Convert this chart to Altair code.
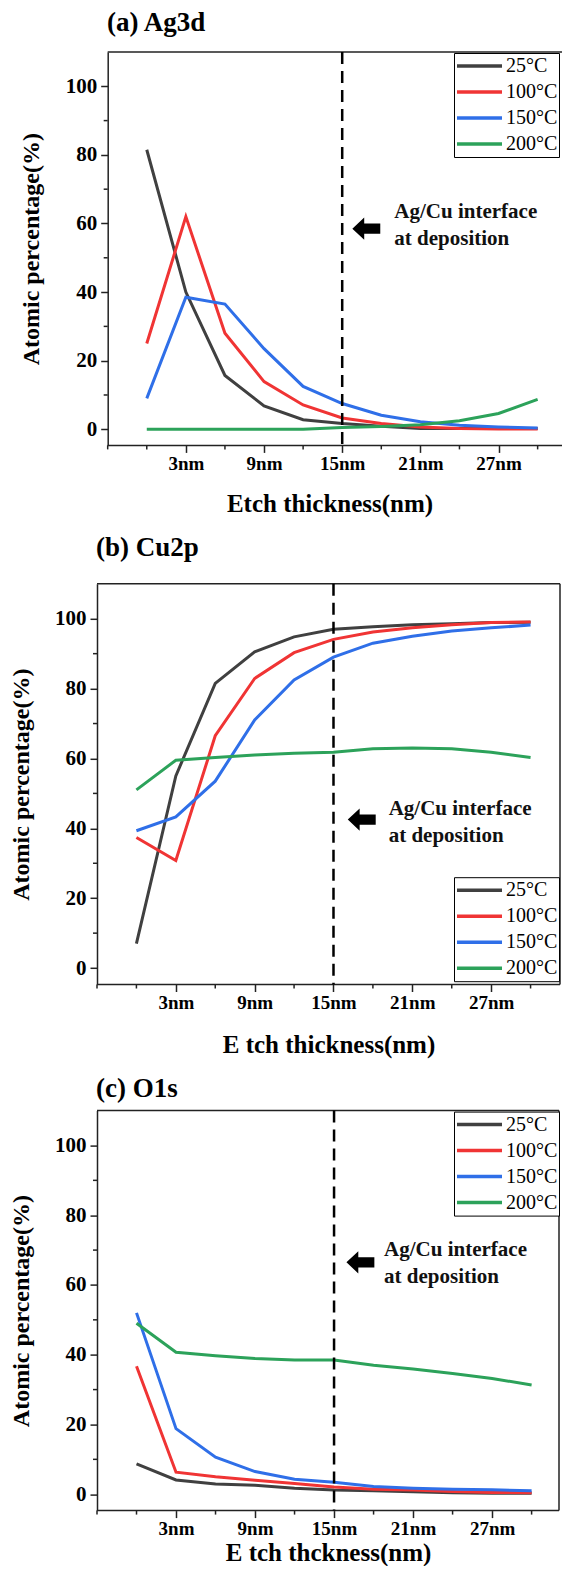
import altair as alt
import pandas as pd

# ---------------- data ----------------
x_nm = [0, 3, 6, 9, 12, 15, 18, 21, 24, 27, 30]
series = ["25°C", "100°C", "150°C", "200°C"]
colors = ["#404040", "#f03434", "#2f6fe8", "#2ca25a"]

ag_25 = [81.5, 40.0, 15.7, 6.8, 2.8, 1.7, 0.9, 0.2, 0.2, 0.2, 0.2]
ag_100 = [25.0, 62.0, 28.0, 13.9, 7.1, 3.3, 1.7, 0.7, 0.2, 0.1, 0.1]
ag_150 = [9.0, 38.5, 36.5, 23.5, 12.5, 7.5, 4.1, 2.2, 1.2, 0.7, 0.4]
ag_200 = [0.0, 0.0, 0.0, 0.0, 0.0, 0.5, 0.8, 1.3, 2.5, 4.6, 8.7]

cu_25 = [7.0, 55.0, 81.5, 90.5, 94.8, 97.0, 97.7, 98.3, 98.6, 98.9, 99.0]
cu_100 = [37.4, 30.8, 66.5, 82.9, 90.3, 94.1, 96.2, 97.4, 98.3, 98.9, 99.1]
cu_150 = [39.3, 43.3, 53.5, 71.0, 82.5, 89.0, 93.0, 95.0, 96.5, 97.4, 98.2]
cu_200 = [51.0, 59.5, 60.3, 61.0, 61.5, 61.8, 62.8, 63.0, 62.8, 61.8, 60.3]

o_25 = [8.7, 4.1, 2.9, 2.6, 1.7, 1.2, 1.0, 0.7, 0.4, 0.3, 0.3]
o_100 = [36.7, 6.3, 5.0, 4.0, 3.1, 2.1, 1.4, 1.2, 0.8, 0.5, 0.4]
o_150 = [52.0, 18.8, 10.6, 6.5, 4.3, 3.4, 2.2, 1.7, 1.4, 1.25, 1.0]
o_200 = [49.0, 40.7, 39.7, 38.9, 38.5, 38.5, 37.0, 35.9, 34.6, 33.2, 31.3]

panel_titles = ["(a) Ag3d", "(b) Cu2p", "(c) O1s"]
x_titles = ["Etch thickness(nm)", "E tch thickness(nm)", "E tch thckness(nm)"]
y_title = "Atomic percentage(%)"

major_x = [3, 9, 15, 21, 27]
minor_x = [0, 6, 12, 18, 24, 30]
major_y = [0, 20, 40, 60, 80, 100]
minor_y = [10, 30, 50, 70, 90]
x_lo = -3
y_lo, y_hi = -4.7, 110

interface_x = 15
note_lines = ["Ag/Cu interface", "at deposition"]
# annotation anchors (nm, %) per panel
arrow_x = [16.85, 17.15, 17.0]
arrow_y = [58.5, 42.5, 66.5]
note_x = [19.0, 19.2, 18.8]
note_y = [61.7, 43.9, 68.2]

FONT = "Liberation Serif"
AXC = "#222222"
ARROW = "M -1 0 L -0.15 -0.8 L -0.15 -0.37 L 1 -0.37 L 1 0.37 L -0.15 0.37 L -0.15 0.8 Z"


def long_df(vals):
    rows = []
    for s, v in zip(series, vals):
        for x, y in zip(x_nm, v):
            rows.append({"x": x, "y": y, "series": s})
    return pd.DataFrame(rows)


def panel(i, vals, width, height, xdom, yoff, title_dx, title_offset,
          xtitle_pad, legend_x, legend_y, right_border):
    xs = alt.Scale(domain=xdom, nice=False, zero=False)
    ys = alt.Scale(domain=[y_lo, y_hi], nice=False, zero=False)
    xa = alt.Axis(values=major_x, labelExpr="datum.value + 'nm'", title=x_titles[i],
                  titlePadding=xtitle_pad, labelPadding=2, tickSize=7, domain=False,
                  labelFontSize=19, titleFontSize=25, grid=False)
    ya = alt.Axis(values=major_y, title=y_title, titlePadding=2, labelPadding=4,
                  tickSize=7, labelFontSize=21, titleFontSize=24, offset=yoff,
                  minExtent=62, maxExtent=62, grid=False)
    X = lambda: alt.X("x:Q", scale=xs, axis=xa, title=x_titles[i])
    Y = lambda: alt.Y("y:Q", scale=ys, axis=ya, title=y_title)
    df = long_df(vals)
    x_end = xdom[1]

    lines = alt.Chart(df).mark_line(strokeWidth=3, clip=True).encode(
        x=X(), y=Y(),
        color=alt.Color("series:N", sort=series,
                        scale=alt.Scale(domain=series, range=colors),
                        legend=alt.Legend(
                            title=None, orient="none", legendX=legend_x,
                            legendY=legend_y, direction="vertical",
                            symbolType="stroke", symbolSize=2025,
                            symbolStrokeWidth=3.5, clipHeight=24,
                            rowPadding=2, labelOffset=2, labelFontSize=20,
                            labelFont=FONT, labelFontWeight="normal",
                            labelColor="black", strokeColor="black",
                            padding=1, fillColor="white")),
    )

    xminor = alt.Chart(pd.DataFrame({"x": [x_lo] + minor_x})).mark_rule(
        color=AXC, strokeWidth=1.5).encode(
        x=X(), y=alt.value(height), y2=alt.value(height + 4))
    yminor = alt.Chart(pd.DataFrame({"y": minor_y})).mark_rule(
        color=AXC, strokeWidth=1.5, xOffset=-4).encode(
        y=Y(), x=alt.datum(x_lo), x2=alt.datum(x_lo))

    frame = alt.Chart(pd.DataFrame({"y": [y_lo, y_hi]})).mark_rule(
        color=AXC, strokeWidth=1.5).encode(
        y=Y(), x=alt.datum(x_lo), x2=alt.datum(x_end))

    dash = alt.Chart(pd.DataFrame({"x": [interface_x]})).mark_rule(
        color="black", strokeWidth=2.5, strokeDash=[12, 7]).encode(x=X())

    arrow = alt.Chart(pd.DataFrame({"x": [arrow_x[i]], "y": [arrow_y[i]]})).mark_point(
        shape=ARROW, filled=True, color="black", opacity=1, size=780).encode(
        x=X(), y=Y())

    note = alt.Chart(pd.DataFrame({"x": [note_x[i]], "y": [note_y[i]]})).mark_text(
        text=note_lines, align="left", baseline="alphabetic", font=FONT,
        fontWeight="bold", fontSize=21, lineHeight=27, color="#111111").encode(
        x=X(), y=Y())

    layers = [lines, xminor, yminor, frame, dash, arrow, note]
    if right_border:
        rb = alt.Chart(pd.DataFrame({"x": [x_end]})).mark_rule(
            color=AXC, strokeWidth=1.5).encode(x=X())
        layers.append(rb)

    return alt.layer(*layers).properties(
        width=width, height=height,
        title=alt.TitleParams(panel_titles[i], anchor="start", frame="group",
                              offset=title_offset, fontSize=27, font=FONT,
                              fontWeight="bold", color="black", dx=title_dx),
    )


pa = panel(0, [ag_25, ag_100, ag_150, ag_200], 465, 393.4, [-3.82, 31.87], -10.7,
           10, 14, 17.7, 357, 1, False)
pb = panel(1, [cu_25, cu_100, cu_150, cu_200], 463, 400.7, [x_lo, 32.24], 0,
           -1, 20.5, 19.7, 357, 293.4, True)
pc = panel(2, [o_25, o_100, o_150, o_200], 462, 400, [x_lo, 32.08], 0,
           -1, 6, 2, 357, 1, True)

chart = alt.vconcat(pa, pb, pc, spacing=16.8).resolve_scale(
    x="independent", y="independent", color="independent"
).resolve_legend(color="independent").properties(
    padding={"left": 1, "top": 0, "right": 0, "bottom": 0}
).configure(font=FONT).configure_view(stroke=None).configure_axis(
    domainColor=AXC, domainWidth=1.5, tickColor=AXC, tickWidth=1.5,
    labelColor="black", titleColor="black", labelFont=FONT, titleFont=FONT,
    labelFontWeight="bold", titleFontWeight="bold",
)

chart.save("out.html", embed_options={"renderer": "svg", "actions": False})
